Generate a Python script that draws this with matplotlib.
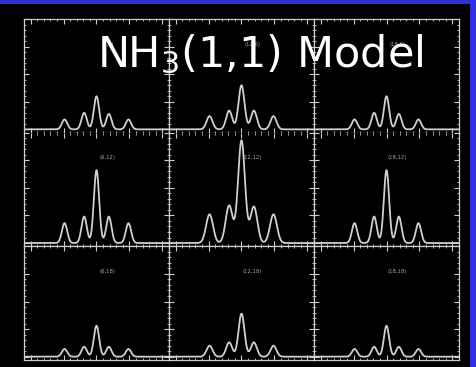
import numpy as np
import matplotlib
matplotlib.use("Agg")
import matplotlib.pyplot as plt
from matplotlib.ticker import MultipleLocator
from matplotlib.patches import Rectangle

# NH3(1,1) hyperfine groups: velocity offsets (km/s) of outer/inner satellites and main line
component_offsets = [-19.4, -7.5, 0.0, 7.5, 19.4]

# Panel grid labels (x, y positions of the model spectra)
panel_labels = [["(6,6)", "(12,6)", "(18,6)"],
                ["(6,12)", "(12,12)", "(18,12)"],
                ["(6,18)", "(12,18)", "(18,18)"]]

# Peak heights of the five components in each panel (outer, inner, main, inner, outer)
peak_heights = [
    [[0.09, 0.15, 0.30, 0.14, 0.09], [0.12, 0.17, 0.40, 0.17, 0.12], [0.09, 0.15, 0.30, 0.14, 0.09]],
    [[0.18, 0.24, 0.66, 0.24, 0.18], [0.26, 0.34, 0.93, 0.33, 0.26], [0.18, 0.24, 0.66, 0.24, 0.18]],
    [[0.07, 0.09, 0.28, 0.09, 0.07], [0.10, 0.13, 0.39, 0.13, 0.10], [0.07, 0.09, 0.28, 0.09, 0.07]],
]

# Gaussian line widths (sigma, km/s) per panel
line_sigmas = [
    [1.6, 1.8, 1.6],
    [1.6, 2.1, 1.6],
    [1.6, 1.8, 1.6],
]

v_min, v_max = -44.0, 44.0
frame_color = "#cfcfcf"
line_color = "#cfcfcf"

plt.rcParams["mathtext.fontset"] = "dejavusans"

fig = plt.figure(figsize=(4.76, 3.67), dpi=100, facecolor="black")

# blue slide border along the top and right edges
fig.patches.append(Rectangle((0, 1 - 4 / 367), 1, 4 / 367, transform=fig.transFigure,
                             facecolor="#3030d8", edgecolor="none", zorder=0))
fig.patches.append(Rectangle((470 / 476, 0), 6 / 476, 1, transform=fig.transFigure,
                             facecolor="#3030d8", edgecolor="none", zorder=0))

left, right = 24 / 476, 459 / 476
top, bottom = 1 - 19 / 367, 1 - 360 / 367
w = (right - left) / 3
h = (top - bottom) / 3

v = np.linspace(v_min, v_max, 800)

for r in range(3):
    for c in range(3):
        ax = fig.add_axes([left + c * w, top - (r + 1) * h, w, h])
        ax.set_facecolor("black")
        spec = np.zeros_like(v)
        for off, amp in zip(component_offsets, peak_heights[r][c]):
            spec += amp * np.exp(-0.5 * ((v - off) / line_sigmas[r][c]) ** 2)
        ax.plot(v, spec, color=line_color, lw=1.3)
        ax.set_xlim(v_min, v_max)
        ax.set_ylim(-0.03, 1.0)
        for name, sp in ax.spines.items():
            sp.set_color(frame_color)
            sp.set_linewidth(0.9)
        if r == 0:
            ax.spines["bottom"].set_linestyle((0, (1, 4)))
        if r == 1:
            ax.spines["top"].set_visible(False)
        ax.xaxis.set_major_locator(MultipleLocator(20))
        ax.xaxis.set_minor_locator(MultipleLocator(4))
        ax.yaxis.set_major_locator(MultipleLocator(0.25))
        ax.yaxis.set_minor_locator(MultipleLocator(0.05))
        ax.tick_params(which="both", direction="in", top=True, right=True,
                       color=frame_color, labelbottom=False, labelleft=False)
        ax.tick_params(which="major", length=3.5, width=0.8)
        ax.tick_params(which="minor", length=1.6, width=0.6)
        ax.text(0.575, 0.78, panel_labels[r][c], transform=ax.transAxes,
                ha="center", va="center", fontsize=3.8, color="#a8a8a8", zorder=1)

fig.text(97 / 476, 1 - 67 / 367, r"NH$_3$(1,1) Model", color="white",
         fontsize=31, ha="left", va="baseline", family="DejaVu Sans", zorder=5)

fig.savefig("out.png", dpi=100, facecolor="black")
